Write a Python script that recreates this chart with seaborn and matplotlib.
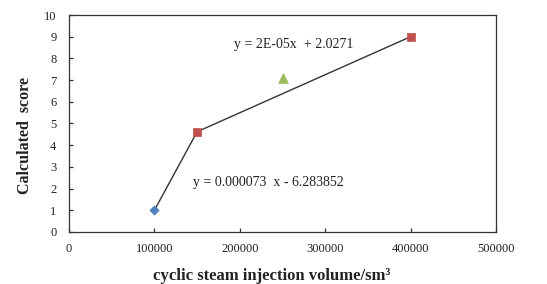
import matplotlib
matplotlib.use("Agg")
import matplotlib.pyplot as plt
import seaborn as sns
import pandas as pd

# Data
line_x = [100000, 150000, 400000]
line_y = [1.0, 4.62, 9.0]
pt_x = [100000, 150000, 400000, 250000]
pt_y = [1.0, 4.62, 9.0, 7.1]
pt_kind = ["diamond", "square", "square", "triangle"]
x_ticks = [0, 100000, 200000, 300000, 400000, 500000]
y_ticks = list(range(0, 11))
eq1 = "y = 2E-05x  + 2.0271"
eq2 = "y = 0.000073  x - 6.283852"

sns.set_theme(style="white")
plt.rcParams['font.family'] = ['Liberation Serif', 'DejaVu Serif']

fig = plt.figure(figsize=(5.47, 2.84), dpi=100)
ax = fig.add_axes([69/547, 1-232/284, (496-69)/547, (232-15)/284])

line_df = pd.DataFrame({"x": line_x, "y": line_y})
sns.lineplot(data=line_df, x="x", y="y", ax=ax, color="#333333", linewidth=1.0, sort=False)

pts = pd.DataFrame({"x": pt_x, "y": pt_y, "kind": pt_kind})
colors = {"diamond": "#4F81BD", "square": "#C0504D", "triangle": "#9BBB59"}
markers = {"diamond": "D", "square": "s", "triangle": "^"}
sizes = {"diamond": 22, "square": 32, "triangle": 50}
for k in ["diamond", "square", "triangle"]:
    sub = pts[pts["kind"] == k]
    sns.scatterplot(data=sub, x="x", y="y", ax=ax, marker=markers[k], color=colors[k],
                    s=sizes[k], edgecolor=colors[k], linewidth=0.5, zorder=3)

ax.text(193000, 8.62, eq1, fontsize=10, va="center", ha="left", color="#222222")
ax.text(145000, 2.26, eq2, fontsize=10, va="center", ha="left", color="#222222")

ax.set_xlim(0, 500000)
ax.set_ylim(0, 10)
ax.set_xticks(x_ticks)
ax.set_yticks(y_ticks)
ax.set_xticklabels([str(v) for v in x_ticks])
ax.set_yticklabels([str(v) for v in y_ticks])
ax.tick_params(axis="x", pad=8)
ax.tick_params(axis="y", pad=9)
ax.tick_params(axis="both", direction="in", length=3, width=0.9, labelsize=9, colors="#333333",
               labelcolor="#222222")
ax.tick_params(left=True, bottom=True)
for s in ax.spines.values():
    s.set_color("#333333")
    s.set_linewidth(0.9)
ax.set_xlabel("cyclic steam injection volume/sm³", fontsize=12, fontweight="bold", color="#222222")
ax.set_ylabel("Calculated  score", fontsize=11.5, fontweight="bold", color="#222222")
# label positions (axes coords)
ax.xaxis.set_label_coords((272 - 69) / 427, (232 - 268) / 217)
ax.yaxis.set_label_coords((33 - 69) / 427, (232 - 136) / 217)

fig.savefig("out.png", dpi=100, facecolor="white")
